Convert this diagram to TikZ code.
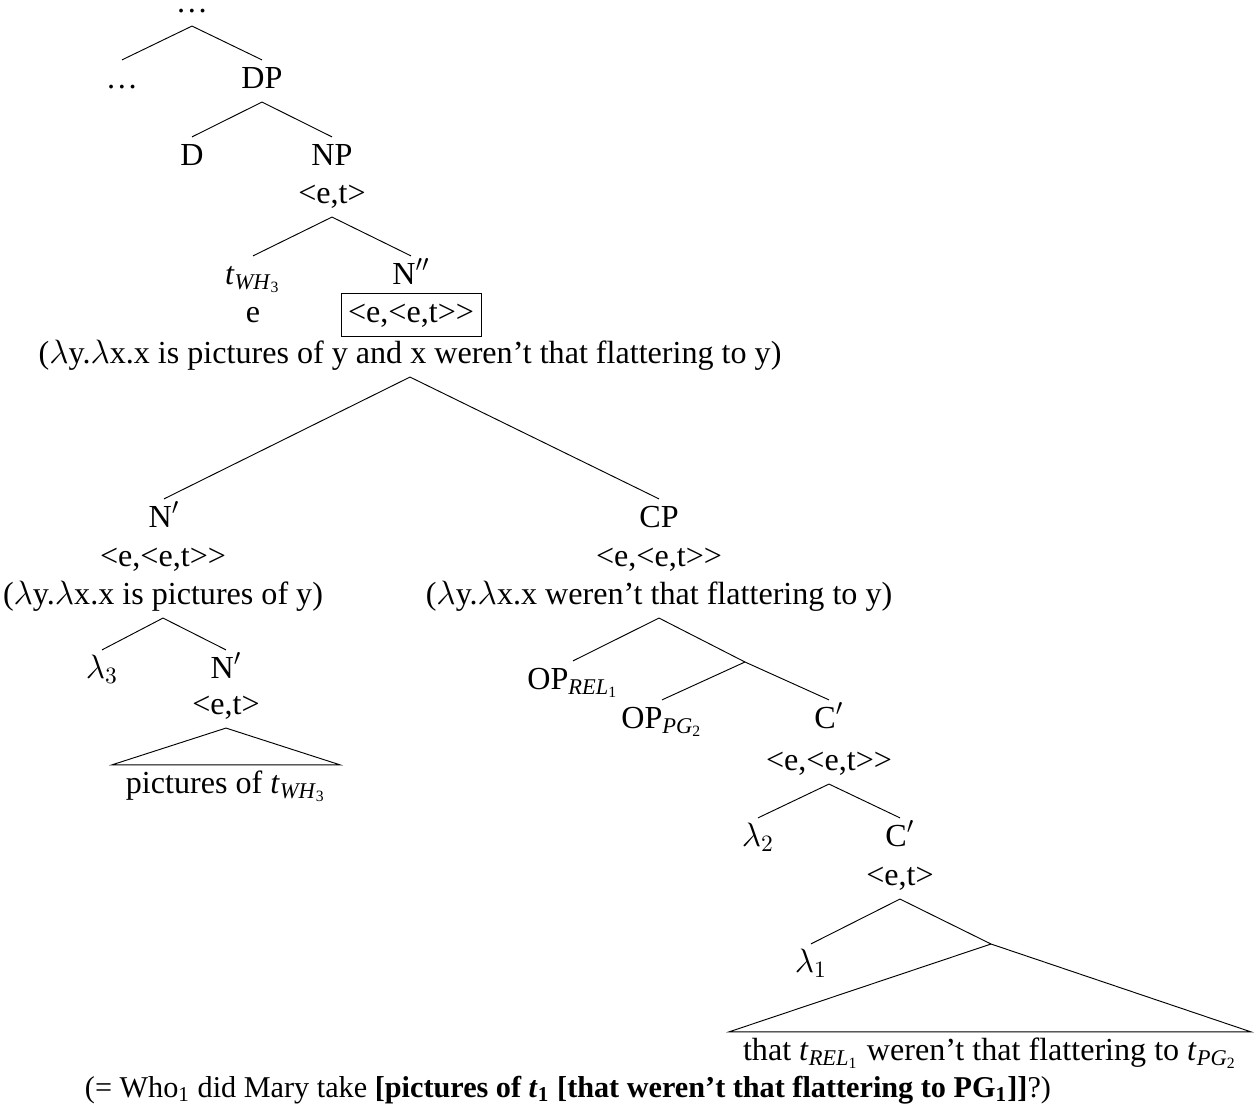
\documentclass[tikz,border=0pt]{standalone}
\usepackage{amsmath,amssymb}
\usepackage{fontspec}
\setmainfont{Liberation Serif}
\usepackage{tikz}
\usetikzlibrary{positioning}

\begin{document}
\begin{tikzpicture}[x=0.015cm,y=-0.015cm,
    lbl/.style={anchor=base,inner sep=0pt,outer sep=3pt,text height=9pt,text depth=3pt,
      font=\fontsize{13.7}{15}\selectfont},
    tbox/.style={lbl,draw,inner sep=3pt,outer sep=0pt},
    leaf/.style={lbl,inner xsep=3pt}]
    \useasboundingbox (0,0) rectangle (1260,1112);
    % upper part
    \node[lbl,text height=2pt] (top) at (192,12) {…};
    \node[lbl] (dotsl) at (122,88) {…};
    \node[lbl] (dp) at (262,88) {DP};
    \node[lbl] (d) at (192,165) {D};
    \node[lbl] (np) at (332,165) {NP};
    \node[lbl] (npt) at (332,203) {<e,t>};
    \node[lbl] (twh) at (253,284) {\textit{t}\textsubscript{\textit{WH}\textsubscript{3}}};
    \node[lbl] (nbar) at (411,284) {N$''$};
    \node[lbl] (twht) at (253,322) {e};
    \node[tbox] (nbart) at (411,322) {<e,<e,t>{}>};
    \node[lbl] (nbarsem) at (410,363) {($\lambda$y.$\lambda$x.x is pictures of y and x weren’t that flattering to y)};
    % left daughter
    \node[lbl] (nl) at (164,527) {N$'$};
    \node[lbl] (nlt) at (163,566) {<e,<e,t>{}>};
    \node[lbl] (nlsem) at (163,604) {($\lambda$y.$\lambda$x.x is pictures of y)};
    \node[lbl] (lam3) at (102,678) {$\lambda_3$};
    \node[lbl] (nl2) at (226,678) {N$'$};
    \node[lbl] (nl2t) at (226,714) {<e,t>};
    \node[leaf] (pics) at (226,793) {pictures of \textit{t}\textsubscript{\textit{WH}\textsubscript{3}}};
    % right daughter
    \node[lbl] (cp) at (659,527) {CP};
    \node[lbl] (cpt) at (659,566) {<e,<e,t>{}>};
    \node[lbl] (cpsem) at (659,604) {($\lambda$y.$\lambda$x.x weren’t that flattering to y)};
    \node[lbl] (oprel) at (573,689) {OP\textsubscript{\textit{REL}\textsubscript{1}}};
    \coordinate (b1) at (745,662);
    \node[lbl] (oppg) at (662,728) {OP\textsubscript{\textit{PG}\textsubscript{2}}};
    \node[lbl] (cbar) at (829,728) {C$'$};
    \node[lbl] (cbart) at (829,770) {<e,<e,t>{}>};
    \node[lbl] (lam2) at (758,846) {$\lambda_2$};
    \node[lbl] (cbar2) at (900,846) {C$'$};
    \node[lbl] (cbar2t) at (900,885) {<e,t>};
    \node[lbl] (lam1) at (811,972) {$\lambda_1$};
    \coordinate (b2) at (991,944);
    \node[leaf] (that) at (990,1060) {that \textit{t}\textsubscript{\textit{REL}\textsubscript{1}} weren’t that flattering to \textit{t}\textsubscript{\textit{PG}\textsubscript{2}}};
    \node[lbl,font=\fontsize{12.9}{15}\selectfont] (gloss) at (568,1097) {(= Who\textsubscript{1} did Mary take \textbf{[pictures of \textit{t}\textsubscript{1} [that weren’t that flattering to PG\textsubscript{1}]]}?)};
    % branches
    \draw (top.south) -- (dotsl.north);
    \draw (top.south) -- (dp.north);
    \draw (dp.south) -- (d.north);
    \draw (dp.south) -- (np.north);
    \draw (npt.south) -- (twh.north);
    \draw (npt.south) -- (nbar.north);
    \draw (nbarsem.south) -- (nl.north);
    \draw (nbarsem.south) -- (cp.north);
    \draw (nlsem.south) -- (lam3.north);
    \draw (nlsem.south) -- (nl2.north);
    \draw (nl2t.south) -- (pics.north west) -- (pics.north east) -- cycle;
    \draw (cpsem.south) -- (oprel.north);
    \draw (cpsem.south) -- (b1) -- (cbar.north);
    \draw (b1) -- (oppg.north);
    \draw (cbart.south) -- (lam2.north);
    \draw (cbart.south) -- (cbar2.north);
    \draw (cbar2t.south) -- (lam1.north);
    \draw (cbar2t.south) -- (b2);
    \draw (b2) -- (that.north west) -- (that.north east) -- cycle;
\end{tikzpicture}
\end{document}
